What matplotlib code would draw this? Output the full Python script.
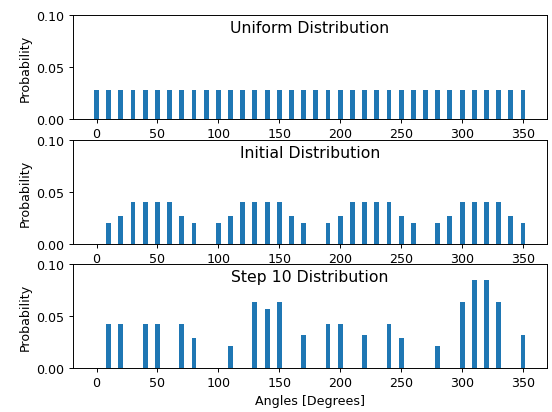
import numpy as np
import matplotlib
matplotlib.use('Agg')
import matplotlib.pyplot as plt

# angle bins (degrees)
angles = np.arange(0, 360, 10)

uniform = [1/36]*36

initial = [0, 0.02, 0.0267, 0.04, 0.04, 0.04, 0.04, 0.0267, 0.02,
           0, 0.02, 0.0267, 0.04, 0.04, 0.04, 0.04, 0.0267, 0.02,
           0, 0.02, 0.0267, 0.04, 0.04, 0.04, 0.04, 0.0267, 0.02,
           0, 0.02, 0.0267, 0.04, 0.04, 0.04, 0.04, 0.0267, 0.02]

step10 = [0, 0.042, 0.042, 0, 0.042, 0.042, 0, 0.042, 0.0285,
          0, 0, 0.021, 0, 0.063, 0.0565, 0.063, 0, 0.0315,
          0, 0.042, 0.042, 0, 0.0315, 0, 0.042, 0.0285, 0,
          0, 0.021, 0, 0.063, 0.0845, 0.0845, 0.063, 0, 0.0315]

titles = ['Uniform Distribution', 'Initial Distribution', 'Step 10 Distribution']
dists = [uniform, initial, step10]

plt.rcParams['font.size'] = 10.5

dpi = 86.25
fig = plt.figure(figsize=(552/dpi, 413/dpi), dpi=dpi)

left, width = 72.5/552, (547-72.5)/552
tops = [16, 141, 265]
h = 104

for k in range(3):
    ax = fig.add_axes([left, 1 - (tops[k]+h)/413, width, h/413])
    ax.bar(angles, dists[k], width=4, color='#1f77b4')
    ax.set_ylim(0, 0.1)
    ax.set_yticks([0, 0.05, 0.10])
    ax.set_yticklabels(['0.00', '0.05', '0.10'])
    ax.set_xticks(np.arange(0, 351, 50))
    ax.set_ylabel('Probability')
    ax.text(0.5, 0.835, titles[k], transform=ax.transAxes,
            ha='center', va='baseline', fontsize=13)

ax.set_xlabel('Angles [Degrees]')

fig.savefig('out.png', dpi=dpi)
